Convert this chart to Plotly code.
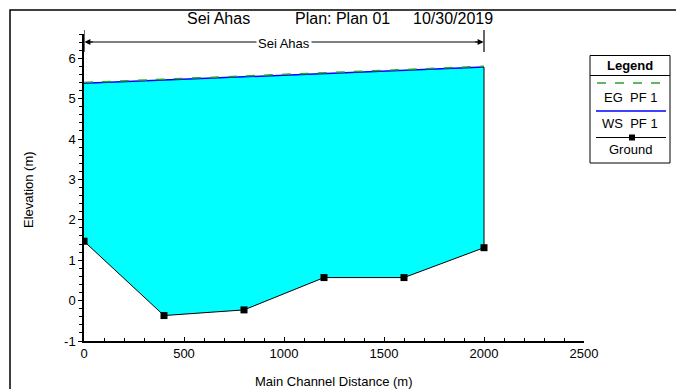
import plotly.graph_objects as go

# Data
stations = [0, 400, 800, 1200, 1600, 2000]
ground = [1.47, -0.37, -0.23, 0.57, 0.57, 1.31]
ws_pf1 = [5.38, 5.46, 5.54, 5.63, 5.70, 5.78]
eg_pf1 = [5.40, 5.48, 5.56, 5.65, 5.72, 5.80]
reach_name = "Sei Ahas"
x_ticks = [0, 500, 1000, 1500, 2000, 2500]
y_ticks = [-1, 0, 1, 2, 3, 4, 5, 6]

FONT = "Liberation Sans, Arial, sans-serif"

fig = go.Figure()
# base (invisible) for fill
fig.add_trace(go.Scatter(x=stations, y=ground, mode="lines",
                         line=dict(color="rgba(0,0,0,0)", width=0), showlegend=False, hoverinfo="skip"))
fig.add_trace(go.Scatter(x=stations, y=ws_pf1, mode="lines", fill="tonexty",
                         fillcolor="#00FFFF", line=dict(color="#0000FF", width=1.5), name="WS PF 1",
                         showlegend=False))
fig.add_trace(go.Scatter(x=stations, y=eg_pf1, mode="lines",
                         line=dict(color="#2E9E2E", width=1.5, dash="dash"), name="EG PF 1",
                         showlegend=False))
# boundary at downstream end
fig.add_trace(go.Scatter(x=[stations[-1], stations[-1]], y=[ground[-1], ws_pf1[-1]], mode="lines",
                         line=dict(color="black", width=1), showlegend=False, hoverinfo="skip"))
fig.add_trace(go.Scatter(x=stations, y=ground, mode="lines+markers",
                         line=dict(color="black", width=1),
                         marker=dict(symbol="square", size=7, color="black"),
                         name="Ground", showlegend=False))

# page body has an 8px margin: figure is offset by 8px in the window
OFF = 8
W, H = 684 - OFF, 389 - OFF
L_REF, T_REF = 84, 34
PW, PH = 500, 307
L, T = L_REF - OFF, T_REF - OFF

def px(x):
    return (x - L_REF) / PW

def py(y):
    return (T_REF + PH - y) / PH

def txt(x, y, text, size=13, **kw):
    d = dict(x=px(x), y=py(y), xref="paper", yref="paper", text=text, showarrow=False,
             xanchor="center", yanchor="middle", font=dict(family=FONT, size=size, color="black"))
    d.update(kw)
    return d

shapes = []
annotations = []
# outer frame
shapes.append(dict(type="rect", xref="paper", yref="paper", x0=px(10), x1=px(681), y0=py(420), y1=py(10),
                   line=dict(color="black", width=1.5), fillcolor="rgba(0,0,0,0)", layer="above"))
# reach marker
for xs in (stations[0], stations[-1]):
    shapes.append(dict(type="line", xref="x", yref="paper", x0=xs, x1=xs, y0=py(52), y1=py(30),
                       line=dict(color="black", width=1.2)))
shapes.append(dict(type="line", xref="x", yref="paper", x0=stations[0] + 10, x1=stations[-1] - 10,
                   y0=py(42), y1=py(42), line=dict(color="black", width=1.2)))
annotations.append(dict(x=stations[-1] - 2, y=py(42), ax=-10, ay=0, xref="x", yref="paper",
                        axref="pixel", ayref="pixel", showarrow=True, arrowhead=2, arrowsize=1, arrowwidth=1.2,
                        arrowcolor="black", text=""))
annotations.append(dict(x=stations[0] + 2, y=py(42), ax=10, ay=0, xref="x", yref="paper",
                        axref="pixel", ayref="pixel", showarrow=True, arrowhead=2, arrowsize=1, arrowwidth=1.2,
                        arrowcolor="black", text=""))
annotations.append(dict(x=(stations[0] + stations[-1]) / 2, y=py(43), xref="x", yref="paper",
                        xanchor="center", yanchor="middle",
                        text=reach_name, showarrow=False, bgcolor="white",
                        font=dict(family=FONT, size=13, color="black")))
# title
for t, cx in (("Sei Ahas", 218), ("Plan: Plan 01", 342), ("10/30/2019", 453)):
    annotations.append(txt(cx, 19, t, size=16))
# legend box
shapes.append(dict(type="rect", xref="paper", yref="paper", x0=px(590), x1=px(670), y0=py(163), y1=py(55.5),
                   line=dict(color="black", width=1), fillcolor="white"))
shapes.append(dict(type="line", xref="paper", yref="paper", x0=px(590), x1=px(670), y0=py(75.5), y1=py(75.5),
                   line=dict(color="black", width=1)))
annotations.append(txt(630, 65.5, "<b>Legend</b>", size=13))
shapes.append(dict(type="line", xref="paper", yref="paper", x0=px(597), x1=px(667), y0=py(83), y1=py(83),
                   line=dict(color="#2E9E2E", width=1.5, dash="dash")))
annotations.append(txt(630, 97, "EG  PF 1"))
shapes.append(dict(type="line", xref="paper", yref="paper", x0=px(596), x1=px(666), y0=py(111), y1=py(111),
                   line=dict(color="#0000FF", width=1.5)))
annotations.append(txt(630, 123, "WS  PF 1"))
shapes.append(dict(type="line", xref="paper", yref="paper", x0=px(596), x1=px(666), y0=py(137.5), y1=py(137.5),
                   line=dict(color="black", width=1)))
shapes.append(dict(type="rect", xref="paper", yref="paper", x0=px(629), x1=px(635), y0=py(140.5), y1=py(134.5),
                   line=dict(color="black", width=0), fillcolor="black"))
annotations.append(txt(630, 149, "Ground"))
# axis titles
annotations.append(txt(28, 190, "Elevation (m)", textangle=-90))
annotations.append(txt(334, 381, "Main Channel Distance (m)"))

fig.update_layout(
    width=W, height=H,
    margin=dict(l=L, r=W - L - PW, t=T, b=H - T - PH, pad=0, autoexpand=False),
    paper_bgcolor="white", plot_bgcolor="white",
    showlegend=False,
    shapes=shapes, annotations=annotations,
    font=dict(family=FONT, size=12, color="black"),
    xaxis=dict(range=[0, 2500], tickvals=x_ticks, ticktext=[str(v) for v in x_ticks], automargin=False,
               showgrid=False, zeroline=False, showline=True, linecolor="black", linewidth=1.5,
               ticks="inside", ticklen=4, tickcolor="black",
               minor=dict(dtick=100, ticks="inside", ticklen=3, tickcolor="black"),
               tickfont=dict(family=FONT, size=13, color="black")),
    yaxis=dict(range=[-1, 6.6], tickvals=y_ticks, ticktext=[str(v) for v in y_ticks], automargin=False,
               showgrid=False, zeroline=False, showline=True, linecolor="black", linewidth=1.5,
               ticks="outside", ticklen=4, tickcolor="black",
               minor=dict(dtick=0.2, ticks="outside", ticklen=3, tickcolor="black"),
               tickfont=dict(family=FONT, size=13, color="black")),
)

fig.write_html("out.html")
